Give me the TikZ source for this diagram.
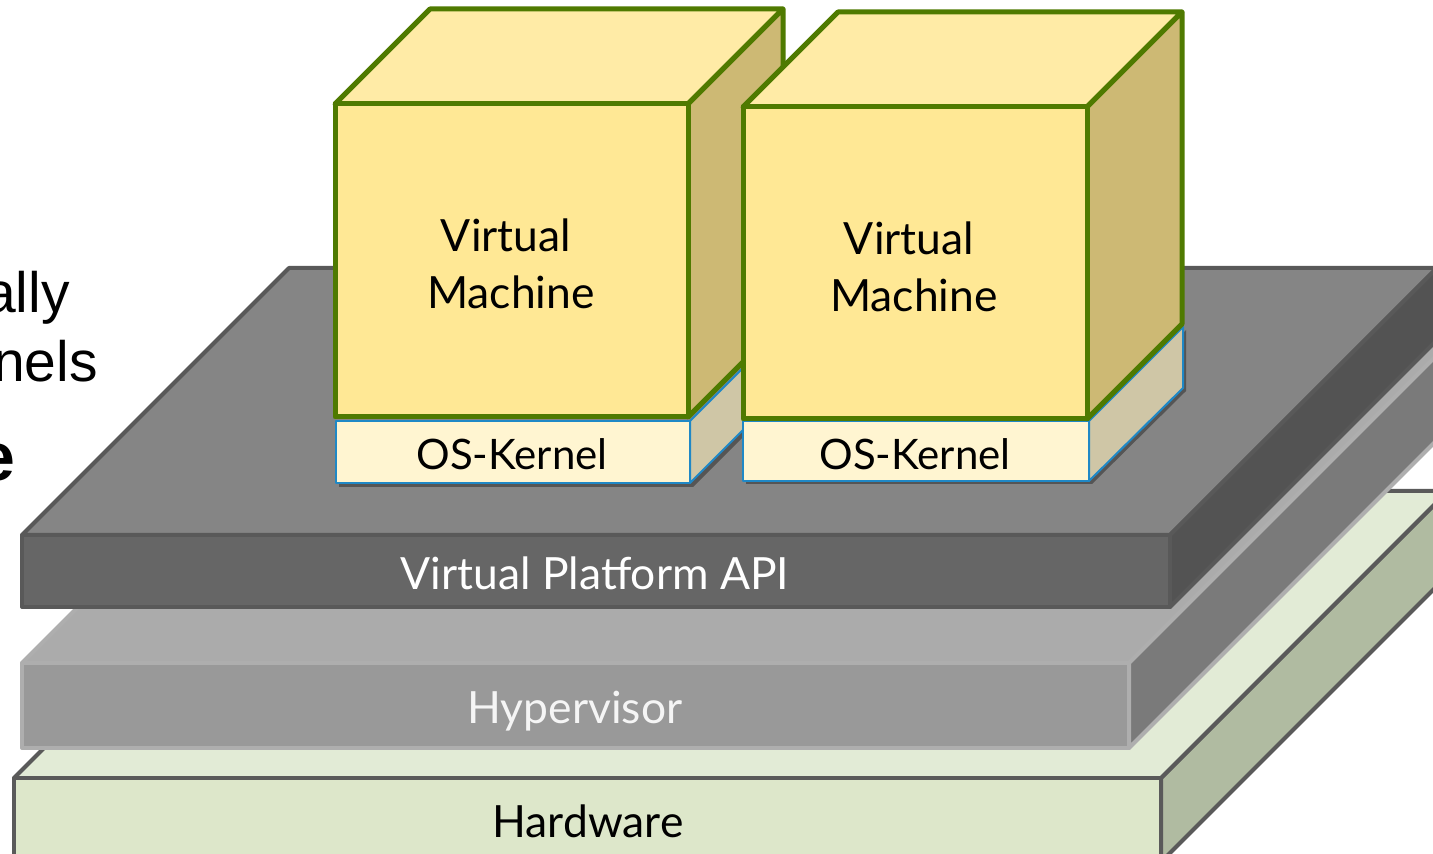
\documentclass[tikz,border=0pt]{standalone}
\usepackage{fontspec}
\setmainfont{Lato}
\newfontfamily\arialfont{Liberation Sans}
\definecolor{apitop}{HTML}{858585}
\definecolor{apifront}{HTML}{666666}
\definecolor{apiside}{HTML}{535353}
\definecolor{apiedge}{HTML}{595959}
\definecolor{hvtop}{HTML}{ABABAB}
\definecolor{hvfront}{HTML}{999999}
\definecolor{hvside}{HTML}{7A7A7A}
\definecolor{hvedge}{HTML}{AEAEAE}
\definecolor{hwtop}{HTML}{E2EBD6}
\definecolor{hwfront}{HTML}{DDE7CA}
\definecolor{hwside}{HTML}{B0BBA1}
\definecolor{hwedge}{HTML}{5A5A5A}
\definecolor{vmtop}{HTML}{FFEBA6}
\definecolor{vmfront}{HTML}{FFE895}
\definecolor{vmside}{HTML}{CDB974}
\definecolor{vmedge}{HTML}{4F7A00}
\definecolor{osfront}{HTML}{FFF5D1}
\definecolor{osside}{HTML}{CFC6A6}
\definecolor{osedge}{HTML}{1F88C6}
\definecolor{osshadow}{HTML}{555555}
\begin{document}
\begin{tikzpicture}[x=0.5pt,y=-0.5pt,line join=round,
  apif/.style={draw=apiedge,line width=2pt},
  hvf/.style={draw=hvedge,line width=2pt},
  hwf/.style={draw=hwedge,line width=2pt},
  vmf/.style={draw=vmedge,line width=2.5pt},
  osf/.style={draw=osedge,line width=1pt},
  lbl/.style={inner sep=0pt,anchor=base,font=\fontsize{22.2pt}{26pt}\selectfont},
  oslbl/.style={inner sep=0pt,anchor=base,font=\fontsize{21pt}{25pt}\selectfont},
  lefttxt/.style={inner sep=0pt,anchor=base east,font=\arialfont\fontsize{28.5pt}{34pt}\selectfont}]
\useasboundingbox (0,0) rectangle (1433,854);
\begin{scope}
\clip (0,0) rectangle (1433,854);
% left text fragments
\node[lefttxt] (t1) at (70,313) {ally};
\node[lefttxt] (t2) at (98,382) {nels};
\node[lefttxt,font=\arialfont\bfseries\fontsize{34pt}{40pt}\selectfont] (t3) at (16,481) {e};
% Hardware
\filldraw[hwf,fill=hwside] (1161,778) -- (1448,491) -- (1448,575) -- (1161,862) -- cycle;
\filldraw[hwf,fill=hwtop] (14,778) -- (301,491) -- (1448,491) -- (1161,778) -- cycle;
\filldraw[hwf,fill=hwfront] (14,778) rectangle (1161,862);
% Hypervisor
\filldraw[hvf,fill=hvtop] (22,663) -- (362,323) -- (1469,323) -- (1129,663) -- cycle;
\filldraw[hvf,fill=hvside] (1129,663) -- (1469,323) -- (1469,408) -- (1129,748) -- cycle;
\filldraw[hvf,fill=hvfront] (22,663) rectangle (1129,748);
% Virtual Platform API
\filldraw[apif,fill=apitop] (22,535) -- (289,268) -- (1437,268) -- (1170,535) -- cycle;
\filldraw[apif,fill=apiside] (1170,535) -- (1437,268) -- (1437,340) -- (1170,607) -- cycle;
\filldraw[apif,fill=apifront] (22,535) rectangle (1170,607);
% Kernel 1
\fill[osshadow] (339,424) -- (693,424) -- (788,329) -- (788,392) -- (693,487) -- (339,487) -- cycle;
\filldraw[osf,fill=osfront] (336,421) rectangle (690,483);
\filldraw[osf,fill=osside] (690,421) -- (785,326) -- (785,388) -- (690,483) -- cycle;
% Cube 1
\filldraw[vmf,fill=vmtop] (335,104) -- (430,9) -- (783,9) -- (688,104) -- cycle;
\filldraw[vmf,fill=vmside] (688,104) -- (783,9) -- (783,322) -- (688,417) -- cycle;
\filldraw[vmf,fill=vmfront] (335,104) rectangle (688,417);
% Kernel 2
\fill[osshadow] (746,424) -- (1092,424) -- (1186,330) -- (1186,391) -- (1092,484) -- (746,484) -- cycle;
\filldraw[osf,fill=osfront] (743,421) rectangle (1089,481);
\filldraw[osf,fill=osside] (1089,421) -- (1183,327) -- (1183,388) -- (1089,481) -- cycle;
% Cube 2
\filldraw[vmf,fill=vmtop] (743,107) -- (838,12) -- (1182,12) -- (1087,107) -- cycle;
\filldraw[vmf,fill=vmside] (1087,107) -- (1182,12) -- (1182,324) -- (1087,419) -- cycle;
\filldraw[vmf,fill=vmfront] (743,107) rectangle (1087,419);
\end{scope}
% labels
\node[lbl] (vm1a) at (506,252) {Virtual};
\node[lbl] (vm1b) at (511,309) {Machine};
\node[lbl] (vm2a) at (909,255) {Virtual};
\node[lbl] (vm2b) at (914,312) {Machine};
\node[oslbl] (os1) at (512,470) {OS-Kernel};
\node[oslbl] (os2) at (915,470) {OS-Kernel};
\node[lbl,text=white] (api) at (595,589) {Virtual Platform API};
\node[lbl,text=white!96!black] (hv) at (575,723) {Hypervisor};
\node[lbl] (hw) at (588,837) {Hardware};
\end{tikzpicture}
\end{document}
